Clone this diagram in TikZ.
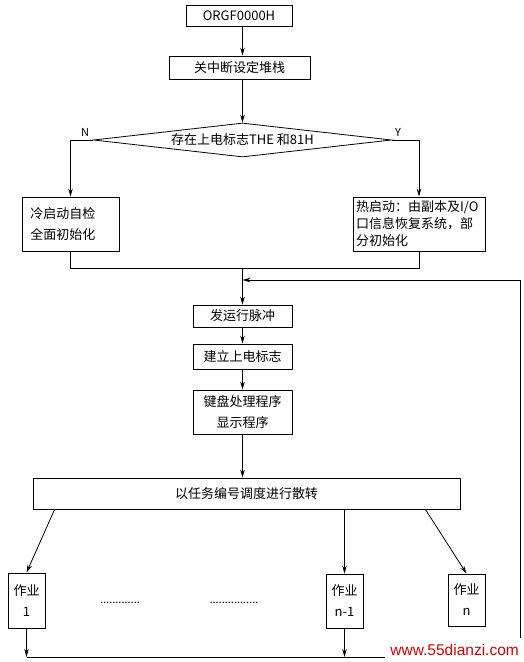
\documentclass[tikz,border=0pt]{standalone}
\usepackage{fontspec}
\setmainfont{Noto Sans CJK SC}
\newfontfamily\wmfont{Liberation Sans}
\usetikzlibrary{shapes.geometric,arrows.meta,calc}
\tikzset{>={Stealth[length=8pt,width=4.5pt]}}
\tikzset{
  box/.style={draw, line width=0.8pt, inner sep=2pt, align=center, font=\fontsize{13}{21}\selectfont},
  flow/.style={line width=0.8pt, ->},
  lbl/.style={font=\fontsize{11}{13}\selectfont, inner sep=0pt},
}

\begin{document}
\begin{tikzpicture}[x=1pt,y=-1pt]
\useasboundingbox (0,0) rectangle (524,662);

      \node[box, minimum width=106, minimum height=21] (org) at (239,15.5) {ORGF0000H};
      \node[box, minimum width=141, minimum height=23] (guan) at (239.5,67.5) {关中断设定堆栈};
      \node[box, diamond, aspect=8.8, inner sep=0pt, minimum width=298, minimum height=34] (dia) at (242.5,140) {存在上电标志THE~和81H};
      \node[lbl] (n) at (85,132) {N};
      \node[lbl] (y) at (398,132) {Y};

      \node[box, minimum width=97, minimum height=54, text width=80, align=left] (cold) at (70.5,224) {冷启动自检\\全面初始化};
      \node[box, minimum width=132, minimum height=54, text width=126, align=left,
            font=\fontsize{13}{17}\selectfont] (hot) at (419,224) {热启动：由副本及I/O\\口信息恢复系统，部\\分初始化};

      \coordinate (merge) at (242.5,268);
      \node[box, minimum width=99, minimum height=22] (pulse) at (242.5,316) {发运行脉冲};
      \node[box, minimum width=99, minimum height=25] (flag) at (242.5,356.5) {建立上电标志};
      \node[box, minimum width=99, minimum height=44] (kbd) at (242.5,412) {键盘处理程序\\显示程序};
      \node[box, minimum width=427, minimum height=31] (disp) at (246.5,493.5) {以任务编号调度进行散转};

      \node[box, minimum width=37, minimum height=55] (job1) at (26.5,600.5) {作业\\1};
      \node[box, minimum width=37, minimum height=54] (jobm) at (344.5,601) {作业\\n-1};
      \node[box, minimum width=37, minimum height=52] (jobn) at (466.5,600) {作业\\n};
      \node[lbl] (dotsa) at (120,603) {.............};
      \node[lbl] (dotsb) at (234,603) {................};

      \draw[flow] (org.south -| dia.north) -- (guan.north -| dia.north);
      \draw[flow] (guan.south -| dia.north) -- (dia.north);
      \draw[flow] (dia.west) -- (dia.west -| cold.north) -- (cold.north);
      \draw[flow] (dia.east) -- (dia.east -| hot.north) -- (hot.north);
      \draw[line width=0.8pt] (cold.south) -- (cold.south |- merge) -- (hot.south |- merge) -- (hot.south);
      \draw[flow] (merge) -- (pulse);
      \draw[flow] (pulse) -- (flag);
      \draw[flow] (flag) -- (kbd);
      \draw[flow] (kbd) -- (kbd |- disp.north);

      \draw[flow] ([xshift=22pt]disp.south west) -- (job1.north);
      \draw[flow] (disp.south -| jobm.north) -- (jobm.north);
      \draw[flow] ([xshift=-35pt]disp.south east) -- (jobn.north);

      % return path
      \coordinate (bl) at (26.5,657);
      \coordinate (br) at (520,657);
      \coordinate (tr) at (520,280);
      \draw[flow] (job1.south) -- (job1.south |- bl);
      \draw[flow] (jobm.south) -- (jobm.south |- bl);
      \draw[line width=0.8pt] (bl) -- (br) -- (tr);
      \draw[flow] (tr) -- (tr -| pulse.north);

      \node[anchor=south east, fill=white, inner xsep=5pt, inner ysep=2pt, minimum height=24,
            text=red!85!black, font=\wmfont\fontsize{15.5}{17}\selectfont] (wm) at (524,662) {www.55dianzi.com};
\end{tikzpicture}
\end{document}
